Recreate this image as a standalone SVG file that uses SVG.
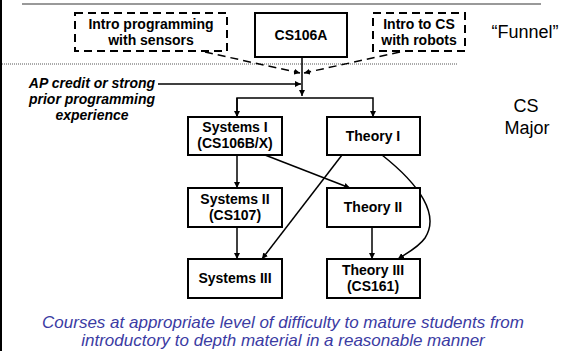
<svg xmlns="http://www.w3.org/2000/svg" width="562" height="351" viewBox="0 0 562 351">
<defs>
<marker id="ah" viewBox="0 0 10 10" refX="10" refY="5" markerWidth="6" markerHeight="6" markerUnits="userSpaceOnUse" orient="auto">
<path d="M0,0 L10,5 L0,10 z" fill="#000"/>
</marker>
</defs>
<style>
.box{fill:#fff;stroke:#000;stroke-width:2}
.dbox{fill:#fff;stroke:#000;stroke-width:2;stroke-dasharray:8,5}
.t{font-family:"Liberation Sans",Arial,sans-serif;font-weight:bold;font-size:14px;fill:#000;text-anchor:middle}
.ln{fill:none;stroke:#000;stroke-width:1.5}
.dl{fill:none;stroke:#000;stroke-width:1.5;stroke-dasharray:8,5}
.side{font-family:"Liberation Sans",Arial,sans-serif;font-size:18px;fill:#000;text-anchor:middle}
.note{font-family:"Liberation Sans",Arial,sans-serif;font-style:italic;font-weight:bold;font-size:14px;fill:#000;text-anchor:middle}
.cap{font-family:"Liberation Sans",Arial,sans-serif;font-style:italic;font-size:17px;fill:#3b3ba3;text-anchor:middle}
</style>
<rect width="562" height="351" fill="#fff"/>
<line x1="1" y1="0" x2="1" y2="351" stroke="#000" stroke-width="2"/>
<line x1="22" y1="4" x2="541" y2="4" stroke="#777" stroke-width="1.5"/>
<line x1="2" y1="64" x2="458" y2="64" stroke="#555" stroke-width="1" stroke-dasharray="1,1"/>
<g id="connectors">
<line class="dl" x1="205" y1="52" x2="300" y2="73" marker-end="url(#ah)"/>
<line class="dl" x1="400" y1="52" x2="304" y2="73" marker-end="url(#ah)"/>
<line class="ln" x1="302" y1="57" x2="302" y2="96" marker-end="url(#ah)"/>
<line class="ln" x1="158" y1="84" x2="301" y2="84" marker-end="url(#ah)"/>
<polyline class="ln" points="237,117 237,98 373,98 373,117" marker-end="url(#ah)"/>
<line class="ln" x1="237" y1="98" x2="237" y2="117" marker-end="url(#ah)"/>
<line class="ln" x1="237" y1="155" x2="237" y2="188" marker-end="url(#ah)"/>
<line class="ln" x1="265" y1="155" x2="350" y2="188" marker-end="url(#ah)"/>
<line class="ln" x1="342" y1="155" x2="262" y2="259" marker-end="url(#ah)"/>
<path class="ln" d="M382,155 C420,185 440,215 425,238 C418,248 405,254 398,259" marker-end="url(#ah)"/>
<line class="ln" x1="237" y1="227" x2="237" y2="259" marker-end="url(#ah)"/>
<line class="ln" x1="372" y1="227" x2="372" y2="259" marker-end="url(#ah)"/>
</g>
<g id="intro-sensors">
<rect class="dbox" x="75" y="13" width="152" height="38"/>
<text class="t" x="151" y="29">Intro programming</text>
<text class="t" x="151" y="45">with sensors</text>
</g>
<g id="cs106a">
<rect class="box" x="255" y="13" width="92" height="44"/>
<text class="t" x="301" y="40">CS106A</text>
</g>
<g id="intro-robots">
<rect class="dbox" x="373" y="13" width="92" height="38"/>
<text class="t" x="419" y="29">Intro to CS</text>
<text class="t" x="419" y="45">with robots</text>
</g>
<g id="ap-credit">
<text class="note" x="92" y="88">AP credit or strong</text>
<text class="note" x="92" y="104">prior programming</text>
<text class="note" x="92" y="120">experience</text>
</g>
<g id="systems1">
<rect class="box" x="188" y="117" width="94" height="38"/>
<text class="t" x="235" y="132">Systems I</text>
<text class="t" x="235" y="148">(CS106B/X)</text>
</g>
<g id="theory1">
<rect class="box" x="327" y="117" width="93" height="38"/>
<text class="t" x="373" y="141">Theory I</text>
</g>
<g id="systems2">
<rect class="box" x="188" y="188" width="94" height="39"/>
<text class="t" x="235" y="204">Systems II</text>
<text class="t" x="235" y="220">(CS107)</text>
</g>
<g id="theory2">
<rect class="box" x="327" y="188" width="93" height="39"/>
<text class="t" x="373" y="212">Theory II</text>
</g>
<g id="systems3">
<rect class="box" x="188" y="259" width="94" height="39"/>
<text class="t" x="235" y="283">Systems III</text>
</g>
<g id="theory3">
<rect class="box" x="327" y="259" width="93" height="39"/>
<text class="t" x="373" y="275">Theory III</text>
<text class="t" x="373" y="291">(CS161)</text>
</g>
<text class="side" x="525" y="38">“Funnel”</text>
<text class="side" x="526" y="112">CS</text>
<text class="side" x="527" y="134">Major</text>
<text class="cap" x="283" y="328">Courses at appropriate level of difficulty to mature students from</text>
<text class="cap" x="283" y="346">introductory to depth material in a reasonable manner</text>
</svg>
